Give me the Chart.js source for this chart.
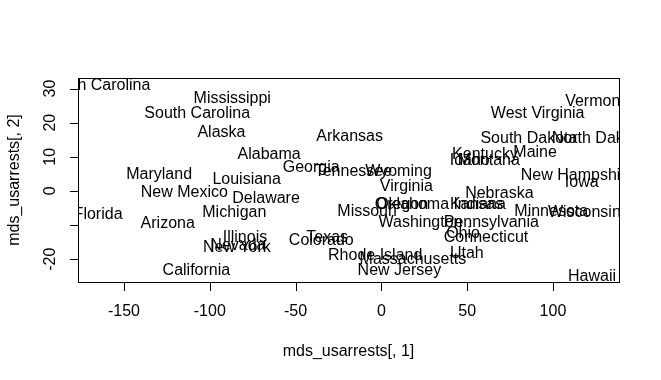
<!DOCTYPE html>
<html>
<head>
<meta charset="utf-8">
<script src="https://cdn.jsdelivr.net/npm/chart.js@4"></script>
<style>
  html, body { margin: 0; padding: 0; background: #ffffff; }
  canvas { display: block; }
</style>
</head>
<body>
<canvas id="c" width="661" height="380"></canvas>
<script>
const states = ["Alabama","Alaska","Arizona","Arkansas","California","Colorado","Connecticut","Delaware","Florida","Georgia","Hawaii","Idaho","Illinois","Indiana","Iowa","Kansas","Kentucky","Louisiana","Maine","Maryland","Massachusetts","Michigan","Minnesota","Mississippi","Missouri","Montana","Nebraska","Nevada","New Hampshire","New Jersey","New Mexico","New York","North Carolina","North Dakota","Ohio","Oklahoma","Oregon","Pennsylvania","Rhode Island","South Carolina","South Dakota","Tennessee","Texas","Utah","Vermont","Virginia","Washington","West Virginia","Wisconsin","Wyoming"];
const mdsX = [-65.4,-93.2,-124.5,-18.5,-107.8,-35.0,61.0,-67.2,-165.1,-40.9,122.8,51.5,-79.5,57.3,116.8,55.5,60.4,-78.5,89.6,-129.5,18.4,-85.7,99.0,-86.9,-8.3,62.6,68.8,-83.6,114.4,10.5,-114.8,-84.2,-164.7,126.8,47.6,18.2,11.7,64.1,-3.6,-107.3,86.0,-16.3,-31.6,49.8,124.5,14.6,22.8,91.1,118.3,10.0];
const mdsY = [10.8,17.3,-9.4,16.2,-23.1,-14.3,-13.5,-2.1,-6.8,6.9,-25.1,9.0,-13.4,-3.8,2.5,-3.8,10.9,3.6,11.3,4.8,-20.0,-6.3,-6.0,27.3,-5.8,9.0,-0.5,-15.8,4.5,-23.1,-0.4,-16.5,30.9,15.5,-12.4,-3.8,-3.8,-9.2,-18.7,22.9,15.5,5.7,-13.5,-18.1,26.3,1.5,-9.2,22.9,-6.3,5.7];
const xTickValues = [-150,-100,-50,0,50,100];
const xTickLabels = ["-150","-100","-50","0","50","100"];
const yTickValues = [-20,-10,0,10,20,30];
const yTickLabels = ["-20","","0","10","20","30"];
const xTitle = "mds_usarrests[, 1]";
const yTitle = "mds_usarrests[, 2]";

const FONT = '16px "Liberation Sans", Arial, sans-serif';

const rPlot = {
  id: 'rPlot',
  afterDatasetsDraw(chart) {
    const ctx = chart.ctx;
    const a = chart.chartArea;
    const xs = chart.scales.x, ys = chart.scales.y;
    const meta = chart.getDatasetMeta(0);
    ctx.save();
    ctx.beginPath();
    ctx.rect(a.left, a.top, a.right - a.left, a.bottom - a.top);
    ctx.clip();
    ctx.fillStyle = '#000';
    ctx.font = FONT;
    ctx.textAlign = 'center';
    ctx.textBaseline = 'middle';
    meta.data.forEach((el, i) => {
      ctx.fillText(states[i], el.x, el.y + 0.5);
    });
    ctx.restore();

    ctx.save();
    ctx.strokeStyle = '#000';
    ctx.lineWidth = 1;
    ctx.strokeRect(Math.round(a.left) + 0.5, Math.round(a.top) + 0.5,
                   Math.round(a.right - a.left), Math.round(a.bottom - a.top));
    ctx.fillStyle = '#000';
    ctx.font = FONT;
    const by = Math.round(a.bottom) + 0.5;
    ctx.beginPath();
    xTickValues.forEach(v => {
      const px = Math.round(xs.getPixelForValue(v)) + 0.5;
      ctx.moveTo(px, by); ctx.lineTo(px, by + 8.5);
    });
    ctx.stroke();
    ctx.textAlign = 'center';
    ctx.textBaseline = 'middle';
    xTickValues.forEach((v, i) => {
      ctx.fillText(xTickLabels[i], xs.getPixelForValue(v), a.bottom + 30);
    });
    ctx.fillText(xTitle, (a.left + a.right) / 2, a.bottom + 70);
    const lx = Math.round(a.left) + 0.5;
    ctx.beginPath();
    yTickValues.forEach(v => {
      const py = Math.round(ys.getPixelForValue(v)) + 0.5;
      ctx.moveTo(lx, py); ctx.lineTo(lx - 8.5, py);
    });
    ctx.stroke();
    yTickValues.forEach((v, i) => {
      if (!yTickLabels[i]) return;
      ctx.save();
      ctx.translate(a.left - 27, ys.getPixelForValue(v));
      ctx.rotate(-Math.PI / 2);
      ctx.fillText(yTickLabels[i], 0, 0);
      ctx.restore();
    });
    ctx.save();
    ctx.translate(15, (a.top + a.bottom) / 2);
    ctx.rotate(-Math.PI / 2);
    ctx.fillText(yTitle, 0, 0);
    ctx.restore();
    ctx.restore();
  }
};

new Chart(document.getElementById('c'), {
  type: 'scatter',
  data: {
    datasets: [{
      data: states.map((s, i) => ({ x: mdsX[i], y: mdsY[i] })),
      pointRadius: 0,
      pointHoverRadius: 0,
      showLine: false
    }]
  },
  options: {
    responsive: false,
    devicePixelRatio: 1,
    animation: false,
    events: [],
    layout: { padding: { left: 78, right: 42, top: 78, bottom: 98 } },
    plugins: { legend: { display: false }, tooltip: { enabled: false } },
    scales: {
      x: { type: 'linear', display: false, min: -176.8, max: 138.5 },
      y: { type: 'linear', display: false, min: -26.7, max: 33.1 }
    }
  },
  plugins: [rPlot]
});
</script>
</body>
</html>
